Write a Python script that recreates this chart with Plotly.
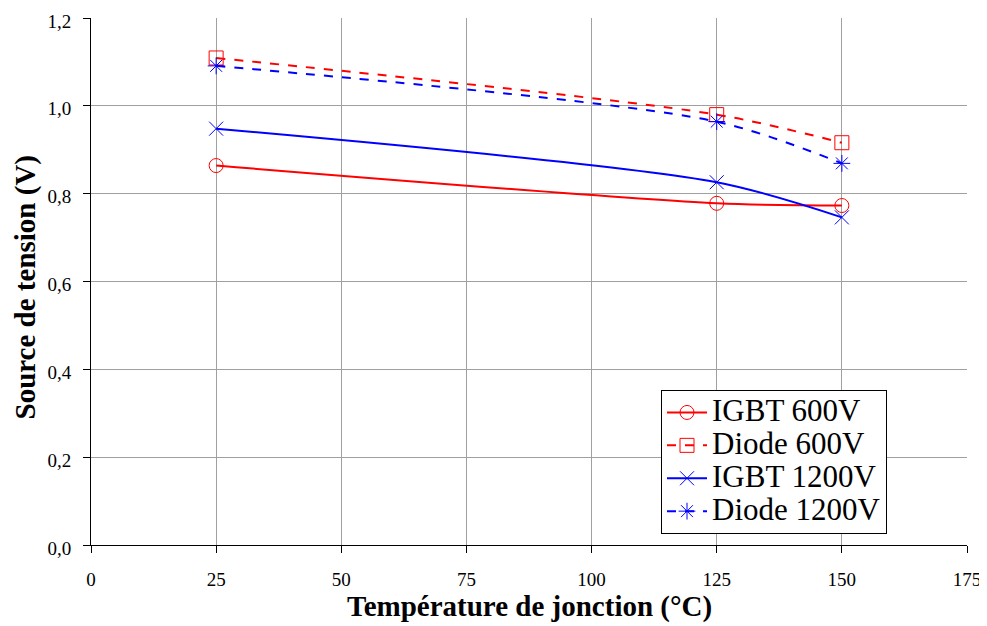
import plotly.graph_objects as go

temps = [25, 125, 150]
igbt_600 = [0.864, 0.778, 0.773]
diode_600 = [1.109, 0.980, 0.916]
igbt_1200 = [0.948, 0.826, 0.746]
diode_1200 = [1.091, 0.964, 0.869]

x_ticks = [0, 25, 50, 75, 100, 125, 150, 175]
y_ticks = [0.0, 0.2, 0.4, 0.6, 0.8, 1.0, 1.2]
y_tick_labels = ["0,0", "0,2", "0,4", "0,6", "0,8", "1,0", "1,2"]

series = [
    ("IGBT 600V", igbt_600, "#FF0000", "solid", "circle-open"),
    ("Diode 600V", diode_600, "#FF0000", "dash", "square-open"),
    ("IGBT 1200V", igbt_1200, "#0000FF", "solid", "x-thin-open"),
    ("Diode 1200V", diode_1200, "#0000FF", "dash", "asterisk-open"),
]

fig = go.Figure()
for name, vals, color, dash, sym in series:
    fig.add_trace(go.Scatter(
        x=temps, y=vals, name='<span style="font-size:31px">' + name + '</span>',
        mode="lines+markers",
        line=dict(color=color, width=2, dash=dash, shape="spline", smoothing=0.8),
        marker=dict(symbol=sym, size=14, color=color, line=dict(width=1, color=color)),
    ))

font_family = "Liberation Serif"
fig.update_layout(
    width=979, height=618,
    margin=dict(l=83, r=20, t=10, b=81, autoexpand=False),
    plot_bgcolor="white", paper_bgcolor="white",
    font=dict(family=font_family, color="black"),
    showlegend=True,
    legend=dict(
        x=(661 - 91) / 876, y=(545 - 390) / 527, xanchor="left", yanchor="top",
        bgcolor="white", bordercolor="black", borderwidth=1,
        font=dict(family=font_family, size=23, color="black"),
        tracegroupgap=0, itemwidth=40,
    ),
    annotations=[
        dict(text="<b>Température de jonction (°C)</b>", xref="paper", yref="paper",
             x=0.5, y=0, yshift=-61, showarrow=False, xanchor="center", yanchor="middle",
             font=dict(family=font_family, size=29, color="black")),
        dict(text="<b>Source de tension (V)</b>", xref="paper", yref="paper",
             x=0, y=0.5, xshift=-66, yshift=-6, showarrow=False, xanchor="center",
             yanchor="middle", textangle=-90,
             font=dict(family=font_family, size=29, color="black")),
    ],
)
fig.update_xaxes(
    range=[0, 175], tickvals=x_ticks, ticktext=[str(v) for v in x_ticks],
    showgrid=True, gridcolor="#A0A0A0", gridwidth=1,
    showline=True, linecolor="black", linewidth=1,
    ticks="outside", ticklen=7, tickcolor="black", ticklabelstandoff=10,
    ticklabeloverflow="allow",
    tickfont=dict(family=font_family, size=19, color="black"),
    zeroline=False, mirror=False, automargin=False,
)
fig.update_yaxes(
    range=[0, 1.2], tickvals=y_ticks, ticktext=y_tick_labels,
    showgrid=True, gridcolor="#A0A0A0", gridwidth=1,
    showline=True, linecolor="black", linewidth=1,
    ticks="outside", ticklen=7, tickcolor="black", ticklabelstandoff=8,
    ticklabelshift=3, ticklabeloverflow="allow",
    tickfont=dict(family=font_family, size=19, color="black"),
    zeroline=False, automargin=False,
)

fig.write_html("out.html")
